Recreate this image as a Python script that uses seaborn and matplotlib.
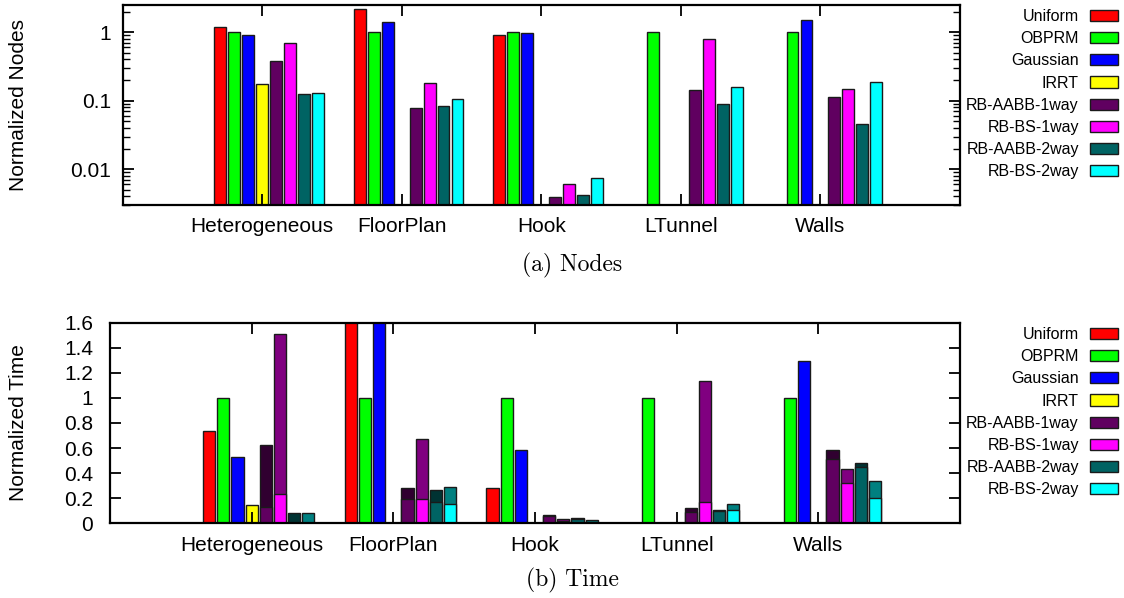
import matplotlib
matplotlib.use("Agg")
import matplotlib.pyplot as plt
import matplotlib.ticker as ticker
from matplotlib.patches import Patch
import numpy as np
import pandas as pd
import seaborn as sns

nan = np.nan

SCENES = ["Heterogeneous", "FloorPlan", "Hook", "LTunnel", "Walls"]
METHODS = ["Uniform", "OBPRM", "Gaussian", "IRRT",
           "RB-AABB-1way", "RB-BS-1way", "RB-AABB-2way", "RB-BS-2way"]

# normalized node counts (order of SCENES)
nodes_uniform = [1.18, 2.17, 0.90, nan, nan]
nodes_obprm = [1.0, 1.0, 1.0, 1.0, 1.0]
nodes_gaussian = [0.92, 1.40, 0.98, nan, 1.53]
nodes_irrt = [0.174, nan, nan, nan, nan]
nodes_aabb1 = [0.381, 0.078, 0.0039, 0.145, 0.115]
nodes_bs1 = [0.70, 0.182, 0.0060, 0.79, 0.149]
nodes_aabb2 = [0.124, 0.085, 0.0042, 0.089, 0.046]
nodes_bs2 = [0.129, 0.106, 0.0074, 0.157, 0.186]

# normalized total time
time_uniform = [0.738, 2.2, 0.284, nan, nan]
time_obprm = [1.0, 1.0, 1.0, 1.0, 1.0]
time_gaussian = [0.526, 1.9, 0.585, nan, 1.294]
time_irrt = [0.148, nan, nan, nan, nan]
time_aabb1 = [0.622, 0.279, 0.066, 0.122, 0.587]
time_bs1 = [1.51, 0.67, 0.034, 1.135, 0.435]
time_aabb2 = [0.080, 0.263, 0.040, 0.110, 0.478]
time_bs2 = [0.085, 0.290, 0.024, 0.151, 0.337]

# lower part of the stacked RB bars
base_aabb1 = [0.133, 0.196, 0.058, 0.088, 0.513]
base_bs1 = [0.234, 0.196, 0.020, 0.167, 0.319]
base_aabb2 = [0.0, 0.170, 0.032, 0.096, 0.449]
base_bs2 = [0.0, 0.156, 0.012, 0.104, 0.204]

COLORS = ["#ff0000", "#00ff00", "#0000ff", "#ffff00",
          "#600060", "#ff00ff", "#006363", "#00ffff"]
TOP_COLORS = ["#ff0000", "#00ff00", "#0000ff", "#ffff00",
              "#300030", "#800080", "#003333", "#008080"]
EDGE = "#1a1a1a"

no_base = [nan] * len(SCENES)
node_rows = [nodes_uniform, nodes_obprm, nodes_gaussian, nodes_irrt,
             nodes_aabb1, nodes_bs1, nodes_aabb2, nodes_bs2]
time_rows = [time_uniform, time_obprm, time_gaussian, time_irrt,
             time_aabb1, time_bs1, time_aabb2, time_bs2]
base_rows = [no_base, no_base, no_base, no_base,
             base_aabb1, base_bs1, base_aabb2, base_bs2]

records = []
for m, nv, tv, bv in zip(METHODS, node_rows, time_rows, base_rows):
    for s, n, t, b in zip(SCENES, nv, tv, bv):
        records.append({"scene": s, "method": m, "nodes": n, "time": t, "base": b})
df = pd.DataFrame(records)

plt.rcParams["font.family"] = ["Liberation Sans", "DejaVu Sans"]

W, H = 1124, 598
fig = plt.figure(figsize=(W / 100, H / 100), dpi=100)
ax1 = fig.add_axes([122.5 / W, 1 - 205 / H, (960 - 122.5) / W, 200 / H])
ax2 = fig.add_axes([110 / W, 1 - 523.3 / H, 850 / W, 200.6 / H])

bar_kw = dict(x="scene", hue="method", order=SCENES, hue_order=METHODS,
              errorbar=None, gap=0.15, saturation=1, edgecolor=EDGE,
              linewidth=1.0, legend=False)

# --- (a) nodes, log scale ---
sns.barplot(data=df, y="nodes", palette=COLORS, ax=ax1, **bar_kw)
ax1.set_yscale("log", nonpositive="clip")
ax1.set_ylim(0.003, 2.5)
ax1.yaxis.set_major_locator(ticker.LogLocator(base=10))
ax1.yaxis.set_minor_locator(ticker.LogLocator(base=10, subs=np.arange(2, 10)))
ax1.yaxis.set_major_formatter(ticker.FuncFormatter(lambda v, p: f"{v:g}"))
ax1.yaxis.set_minor_formatter(ticker.NullFormatter())
ax1.set_ylabel("Normalized Nodes", fontsize=15)
ax1.yaxis.set_label_coords(-0.113, 0.5)

# --- (b) time, stacked ---
sns.barplot(data=df, y="time", palette=TOP_COLORS, ax=ax2, **bar_kw)
sns.barplot(data=df, y="base", palette=COLORS, ax=ax2, **bar_kw)
ax2.set_ylim(0, 1.6)
ax2.set_yticks(np.arange(0, 1.61, 0.2))
ax2.yaxis.set_major_formatter(ticker.FuncFormatter(lambda v, p: f"{v:g}"))
ax2.set_ylabel("Normalized Time", fontsize=15)
ax2.yaxis.set_label_coords(-0.0965, 0.5)

for ax, ypad in ((ax1, 8), (ax2, 12)):
    ax.set_xlim(-1.05, 4.95)
    ax.set_xticks(np.arange(len(SCENES)) - 0.05)
    ax.set_xticklabels(SCENES)
    ax.set_xlabel("")
    ax.tick_params(axis="x", direction="in", top=True, bottom=True,
                   length=8, width=1.3, labelsize=15, pad=9)
    ax.tick_params(axis="y", which="major", direction="in", left=True, right=True,
                   length=8, width=1.3, labelsize=15, pad=ypad)
    ax.tick_params(axis="y", which="minor", direction="in", left=True, right=True,
                   length=5, width=1.0)
    for sp in ax.spines.values():
        sp.set_linewidth(1.6)
        sp.set_color("black")

handles = [Patch(facecolor=c, edgecolor=EDGE, linewidth=1) for c in COLORS]
leg_kw = dict(loc="upper right", frameon=False, markerfirst=False, fontsize=11.5,
              handlelength=1.75, handleheight=0.7, handletextpad=0.7,
              labelspacing=0.45, borderaxespad=0, borderpad=0)
fig.legend(handles, METHODS, bbox_to_anchor=(1118 / W, 1 - 9 / H), **leg_kw)
fig.legend(handles, METHODS, bbox_to_anchor=(1118 / W, 1 - 327 / H), **leg_kw)

fig.text(572 / W, 1 - 265 / H, "(a) Nodes", family="cmr10", fontsize=17,
         ha="center", va="center")
fig.text(572 / W, 1 - 580 / H, "(b) Time", family="cmr10", fontsize=17,
         ha="center", va="center")

fig.savefig("out.png", dpi=100, facecolor="white")
